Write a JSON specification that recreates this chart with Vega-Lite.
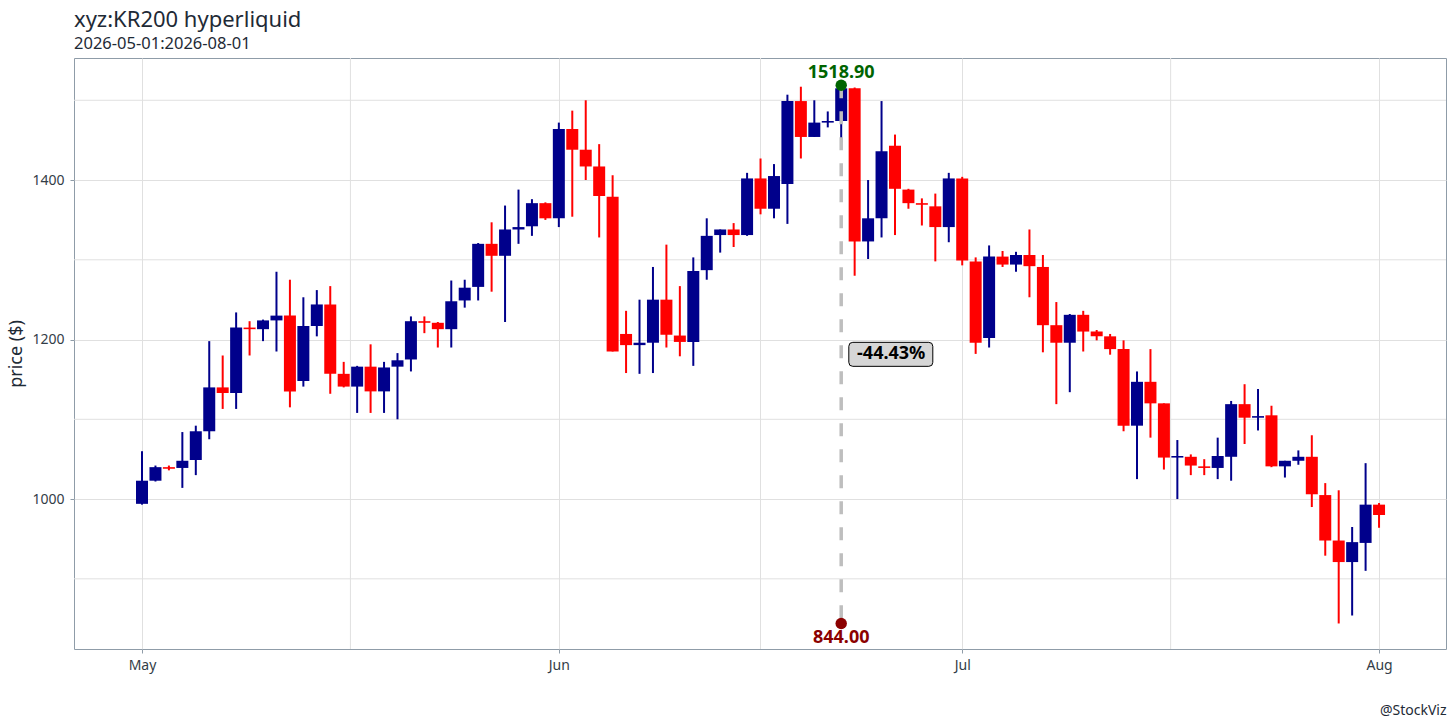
{
  "$schema": "https://vega.github.io/schema/vega-lite/v6.json",
  "autosize": {"type": "none"},
  "width": 1372,
  "height": 591,
  "padding": {"left": 74, "top": 58, "right": 10, "bottom": 79},
  "background": "white",
  "title": {
    "text": "xyz:KR200 hyperliquid",
    "subtitle": "2026-05-01:2026-08-01",
    "anchor": "start",
    "frame": "group",
    "font": "Noto Sans",
    "fontSize": 22,
    "fontWeight": "normal",
    "color": "#1E2A36",
    "subtitleFont": "Noto Sans",
    "subtitleFontSize": 16.5,
    "subtitleColor": "#1E2A36",
    "subtitlePadding": 4,
    "offset": 4
  },
  "config": {
    "font": "Noto Sans",
    "view": {"stroke": "#8F9CA8", "strokeWidth": 1},
    "axis": {
      "domain": false,
      "gridColor": "#E0E0E0",
      "gridWidth": 1,
      "tickColor": "#8F9CA8",
      "tickSize": 4,
      "labelFont": "Noto Sans",
      "labelFontSize": 14,
      "labelColor": "#333D47",
      "titleFont": "Noto Sans",
      "titleFontWeight": "normal",
      "titleColor": "#1E2A36"
    }
  },
  "datasets": {
    "candles": [
      {"date": "2026-05-01", "open": 994, "high": 1060, "low": 993, "close": 1023},
      {"date": "2026-05-02", "open": 1023, "high": 1042, "low": 1022, "close": 1040},
      {"date": "2026-05-03", "open": 1040, "high": 1042, "low": 1036, "close": 1038},
      {"date": "2026-05-04", "open": 1039, "high": 1084, "low": 1014, "close": 1048},
      {"date": "2026-05-05", "open": 1049, "high": 1092, "low": 1030, "close": 1085},
      {"date": "2026-05-06", "open": 1085, "high": 1198, "low": 1075, "close": 1140},
      {"date": "2026-05-07", "open": 1140, "high": 1180, "low": 1113, "close": 1133},
      {"date": "2026-05-08", "open": 1133, "high": 1234, "low": 1113, "close": 1215},
      {"date": "2026-05-09", "open": 1215, "high": 1223, "low": 1180, "close": 1213},
      {"date": "2026-05-10", "open": 1213, "high": 1225, "low": 1198, "close": 1224},
      {"date": "2026-05-11", "open": 1224, "high": 1285, "low": 1185, "close": 1230},
      {"date": "2026-05-12", "open": 1230, "high": 1275, "low": 1115, "close": 1135},
      {"date": "2026-05-13", "open": 1148, "high": 1253, "low": 1141, "close": 1217},
      {"date": "2026-05-14", "open": 1217, "high": 1262, "low": 1204, "close": 1244},
      {"date": "2026-05-15", "open": 1244, "high": 1267, "low": 1132, "close": 1157},
      {"date": "2026-05-16", "open": 1157, "high": 1172, "low": 1140, "close": 1141},
      {"date": "2026-05-17", "open": 1141, "high": 1167, "low": 1108, "close": 1166},
      {"date": "2026-05-18", "open": 1166, "high": 1194, "low": 1108, "close": 1135},
      {"date": "2026-05-19", "open": 1135, "high": 1172, "low": 1108, "close": 1165},
      {"date": "2026-05-20", "open": 1166, "high": 1183, "low": 1100, "close": 1174},
      {"date": "2026-05-21", "open": 1175, "high": 1229, "low": 1160, "close": 1223},
      {"date": "2026-05-22", "open": 1223, "high": 1229, "low": 1208, "close": 1221},
      {"date": "2026-05-23", "open": 1221, "high": 1222, "low": 1190, "close": 1213},
      {"date": "2026-05-24", "open": 1213, "high": 1274, "low": 1190, "close": 1248},
      {"date": "2026-05-25", "open": 1249, "high": 1275, "low": 1240, "close": 1265},
      {"date": "2026-05-26", "open": 1266, "high": 1321, "low": 1249, "close": 1320},
      {"date": "2026-05-27", "open": 1320, "high": 1347, "low": 1260, "close": 1305},
      {"date": "2026-05-28", "open": 1305, "high": 1368, "low": 1222, "close": 1338},
      {"date": "2026-05-29", "open": 1338, "high": 1388, "low": 1320, "close": 1341},
      {"date": "2026-05-30", "open": 1342, "high": 1376, "low": 1330, "close": 1371},
      {"date": "2026-05-31", "open": 1371, "high": 1372, "low": 1350, "close": 1352},
      {"date": "2026-06-01", "open": 1352, "high": 1472, "low": 1341, "close": 1464},
      {"date": "2026-06-02", "open": 1464, "high": 1487, "low": 1354, "close": 1438},
      {"date": "2026-06-03", "open": 1438, "high": 1500, "low": 1400, "close": 1417},
      {"date": "2026-06-04", "open": 1417, "high": 1445, "low": 1328, "close": 1380},
      {"date": "2026-06-05", "open": 1379, "high": 1406, "low": 1185, "close": 1185},
      {"date": "2026-06-06", "open": 1207, "high": 1236, "low": 1158, "close": 1193},
      {"date": "2026-06-07", "open": 1193, "high": 1250, "low": 1157, "close": 1196},
      {"date": "2026-06-08", "open": 1196, "high": 1291, "low": 1158, "close": 1250},
      {"date": "2026-06-09", "open": 1250, "high": 1319, "low": 1190, "close": 1206},
      {"date": "2026-06-10", "open": 1205, "high": 1267, "low": 1179, "close": 1197},
      {"date": "2026-06-11", "open": 1197, "high": 1303, "low": 1167, "close": 1286},
      {"date": "2026-06-12", "open": 1287, "high": 1352, "low": 1275, "close": 1330},
      {"date": "2026-06-13", "open": 1331, "high": 1338, "low": 1309, "close": 1338},
      {"date": "2026-06-14", "open": 1338, "high": 1346, "low": 1316, "close": 1331},
      {"date": "2026-06-15", "open": 1331, "high": 1409, "low": 1330, "close": 1402},
      {"date": "2026-06-16", "open": 1402, "high": 1427, "low": 1357, "close": 1364},
      {"date": "2026-06-17", "open": 1364, "high": 1420, "low": 1352, "close": 1405},
      {"date": "2026-06-18", "open": 1395, "high": 1507, "low": 1345, "close": 1499},
      {"date": "2026-06-19", "open": 1499, "high": 1517, "low": 1427, "close": 1454},
      {"date": "2026-06-20", "open": 1454, "high": 1500, "low": 1454, "close": 1472},
      {"date": "2026-06-21", "open": 1472, "high": 1486, "low": 1466, "close": 1474},
      {"date": "2026-06-22", "open": 1474, "high": 1518.9, "low": 1447, "close": 1515},
      {"date": "2026-06-23", "open": 1515, "high": 1516, "low": 1280, "close": 1323},
      {"date": "2026-06-24", "open": 1323, "high": 1400, "low": 1301, "close": 1352},
      {"date": "2026-06-25", "open": 1352, "high": 1499, "low": 1328, "close": 1436},
      {"date": "2026-06-26", "open": 1443, "high": 1457, "low": 1331, "close": 1389},
      {"date": "2026-06-27", "open": 1388, "high": 1389, "low": 1364, "close": 1371},
      {"date": "2026-06-28", "open": 1371, "high": 1377, "low": 1343, "close": 1369},
      {"date": "2026-06-29", "open": 1367, "high": 1383, "low": 1298, "close": 1341},
      {"date": "2026-06-30", "open": 1341, "high": 1409, "low": 1322, "close": 1402},
      {"date": "2026-07-01", "open": 1402, "high": 1404, "low": 1293, "close": 1299},
      {"date": "2026-07-02", "open": 1298, "high": 1303, "low": 1182, "close": 1196},
      {"date": "2026-07-03", "open": 1202, "high": 1318, "low": 1190, "close": 1304},
      {"date": "2026-07-04", "open": 1304, "high": 1311, "low": 1291, "close": 1294},
      {"date": "2026-07-05", "open": 1294, "high": 1310, "low": 1285, "close": 1306},
      {"date": "2026-07-06", "open": 1306, "high": 1338, "low": 1253, "close": 1292},
      {"date": "2026-07-07", "open": 1291, "high": 1306, "low": 1184, "close": 1218},
      {"date": "2026-07-08", "open": 1218, "high": 1247, "low": 1119, "close": 1196},
      {"date": "2026-07-09", "open": 1196, "high": 1232, "low": 1134, "close": 1231},
      {"date": "2026-07-10", "open": 1231, "high": 1236, "low": 1185, "close": 1210},
      {"date": "2026-07-11", "open": 1210, "high": 1212, "low": 1199, "close": 1204},
      {"date": "2026-07-12", "open": 1204, "high": 1207, "low": 1181, "close": 1188},
      {"date": "2026-07-13", "open": 1188, "high": 1199, "low": 1085, "close": 1092},
      {"date": "2026-07-14", "open": 1092, "high": 1160, "low": 1025, "close": 1147},
      {"date": "2026-07-15", "open": 1147, "high": 1188, "low": 1077, "close": 1120},
      {"date": "2026-07-16", "open": 1120, "high": 1120, "low": 1037, "close": 1052},
      {"date": "2026-07-17", "open": 1052, "high": 1074, "low": 1000, "close": 1054},
      {"date": "2026-07-18", "open": 1053, "high": 1056, "low": 1030, "close": 1042},
      {"date": "2026-07-19", "open": 1041, "high": 1050, "low": 1030, "close": 1039},
      {"date": "2026-07-20", "open": 1039, "high": 1077, "low": 1025, "close": 1054},
      {"date": "2026-07-21", "open": 1053, "high": 1123, "low": 1023, "close": 1119},
      {"date": "2026-07-22", "open": 1119, "high": 1144, "low": 1069, "close": 1102},
      {"date": "2026-07-23", "open": 1102, "high": 1138, "low": 1086, "close": 1104},
      {"date": "2026-07-24", "open": 1105, "high": 1117, "low": 1040, "close": 1041},
      {"date": "2026-07-25", "open": 1041, "high": 1048, "low": 1027, "close": 1048},
      {"date": "2026-07-26", "open": 1048, "high": 1061, "low": 1043, "close": 1053},
      {"date": "2026-07-27", "open": 1053, "high": 1080, "low": 990, "close": 1006},
      {"date": "2026-07-28", "open": 1005, "high": 1020, "low": 929, "close": 948},
      {"date": "2026-07-29", "open": 948, "high": 1011, "low": 844, "close": 921},
      {"date": "2026-07-30", "open": 921, "high": 965, "low": 854, "close": 946},
      {"date": "2026-07-31", "open": 945, "high": 1045, "low": 910, "close": 993},
      {"date": "2026-08-01", "open": 993, "high": 995, "low": 964, "close": 980}
    ],
    "minorY": [{"price": 900}, {"price": 1100}, {"price": 1300}, {"price": 1500}],
    "minorX": [
      {"date": "2026-05-16T12:00:00Z"},
      {"date": "2026-06-16T00:00:00Z"},
      {"date": "2026-07-16T12:00:00Z"}
    ],
    "ann": [
      {"date": "2026-06-22", "hi": 1518.9, "lo": 844, "mid": 1181.45, "hiLabel": "1518.90", "loLabel": "844.00", "pct": "-44.43%"}
    ]
  },
  "layer": [
    {
      "data": {"name": "minorY"},
      "mark": {"type": "rule", "color": "#E0E0E0", "strokeWidth": 1},
      "encoding": {
        "y": {
          "field": "price", "type": "quantitative", "title": "price ($)",
          "scale": {"domain": [812, 1553], "nice": false, "zero": false, "padding": 0},
          "axis": {
            "titleFontSize": 18,
            "titlePadding": 6,
            "values": [1000, 1200, 1400],
            "format": "d",
            "labelPadding": 6,
            "grid": true
          }
        }
      }
    },
    {
      "data": {"name": "minorX"},
      "mark": {"type": "rule", "color": "#E0E0E0", "strokeWidth": 1},
      "encoding": {
        "x": {
          "field": "date", "type": "temporal", "title": "@StockViz",
          "scale": {
            "type": "utc",
            "padding": 0,
            "domain": [
              {"year": 2026, "month": 4, "date": 25, "hours": 22, "minutes": 36, "utc": true},
              {"year": 2026, "month": 8, "date": 5, "hours": 23, "minutes": 31, "utc": true}
            ]
          },
          "axis": {
            "titleAnchor": "end",
            "titleFontSize": 14,
            "titlePadding": 31,
            "values": [
              {"year": 2026, "month": 5, "date": 1, "utc": true},
              {"year": 2026, "month": 6, "date": 1, "utc": true},
              {"year": 2026, "month": 7, "date": 1, "utc": true},
              {"year": 2026, "month": 8, "date": 1, "utc": true}
            ],
            "labelExpr": "utcFormat(datum.value, '%b')",
            "labelPadding": 5,
            "grid": true
          }
        }
      }
    },
    {
      "data": {"name": "candles"},
      "mark": {"type": "rule", "strokeWidth": 2},
      "encoding": {
        "x": {"field": "date", "type": "temporal", "title": "@StockViz"},
        "y": {"field": "low", "type": "quantitative", "title": "price ($)"},
        "y2": {"field": "high"},
        "color": {"condition": {"test": "datum.close >= datum.open", "value": "#00008B"}, "value": "#FF0000"}
      }
    },
    {
      "data": {"name": "candles"},
      "mark": {"type": "bar", "size": 12},
      "encoding": {
        "x": {"field": "date", "type": "temporal", "title": "@StockViz"},
        "y": {"field": "open", "type": "quantitative", "title": "price ($)"},
        "y2": {"field": "close"},
        "color": {"condition": {"test": "datum.close >= datum.open", "value": "#00008B"}, "value": "#FF0000"}
      }
    },
    {
      "data": {"name": "ann"},
      "mark": {"type": "rule", "color": "#BEBEBE", "strokeWidth": 3.5, "strokeDash": [13, 13]},
      "encoding": {
        "x": {"field": "date", "type": "temporal", "title": "@StockViz"},
        "y": {"field": "hi", "type": "quantitative", "title": "price ($)"},
        "y2": {"field": "lo"}
      }
    },
    {
      "data": {"name": "ann"},
      "mark": {"type": "point", "filled": true, "size": 130, "color": "#006400", "opacity": 1},
      "encoding": {
        "x": {"field": "date", "type": "temporal", "title": "@StockViz"},
        "y": {"field": "hi", "type": "quantitative", "title": "price ($)"}
      }
    },
    {
      "data": {"name": "ann"},
      "mark": {"type": "point", "filled": true, "size": 130, "color": "#8B0000", "opacity": 1},
      "encoding": {
        "x": {"field": "date", "type": "temporal", "title": "@StockViz"},
        "y": {"field": "lo", "type": "quantitative", "title": "price ($)"}
      }
    },
    {
      "data": {"name": "ann"},
      "mark": {"type": "text", "fontSize": 18, "fontWeight": "bold", "color": "#006400", "align": "center", "baseline": "alphabetic", "dy": -7},
      "encoding": {
        "x": {"field": "date", "type": "temporal", "title": "@StockViz"},
        "y": {"field": "hi", "type": "quantitative", "title": "price ($)"},
        "text": {"field": "hiLabel"}
      }
    },
    {
      "data": {"name": "ann"},
      "mark": {"type": "text", "fontSize": 18, "fontWeight": "bold", "color": "#8B0000", "align": "center", "baseline": "alphabetic", "dy": 20},
      "encoding": {
        "x": {"field": "date", "type": "temporal", "title": "@StockViz"},
        "y": {"field": "lo", "type": "quantitative", "title": "price ($)"},
        "text": {"field": "loLabel"}
      }
    },
    {
      "data": {"name": "ann"},
      "mark": {
        "type": "point",
        "shape": "M0.232,-0.24 L1.752,-0.24 Q1.832,-0.24 1.832,-0.16 L1.832,0.16 Q1.832,0.24 1.752,0.24 L0.232,0.24 Q0.152,0.24 0.152,0.16 L0.152,-0.16 Q0.152,-0.24 0.232,-0.24 Z",
        "size": 10000,
        "filled": true,
        "fill": "#D6D6D6",
        "stroke": "#000000",
        "strokeWidth": 1,
        "opacity": 1
      },
      "encoding": {
        "x": {"field": "date", "type": "temporal", "title": "@StockViz"},
        "y": {"field": "mid", "type": "quantitative", "title": "price ($)"}
      }
    },
    {
      "data": {"name": "ann"},
      "mark": {"type": "text", "fontSize": 18, "fontWeight": "bold", "color": "#000000", "align": "center", "baseline": "middle", "dx": 50},
      "encoding": {
        "x": {"field": "date", "type": "temporal", "title": "@StockViz"},
        "y": {"field": "mid", "type": "quantitative", "title": "price ($)"},
        "text": {"field": "pct"}
      }
    }
  ]
}
